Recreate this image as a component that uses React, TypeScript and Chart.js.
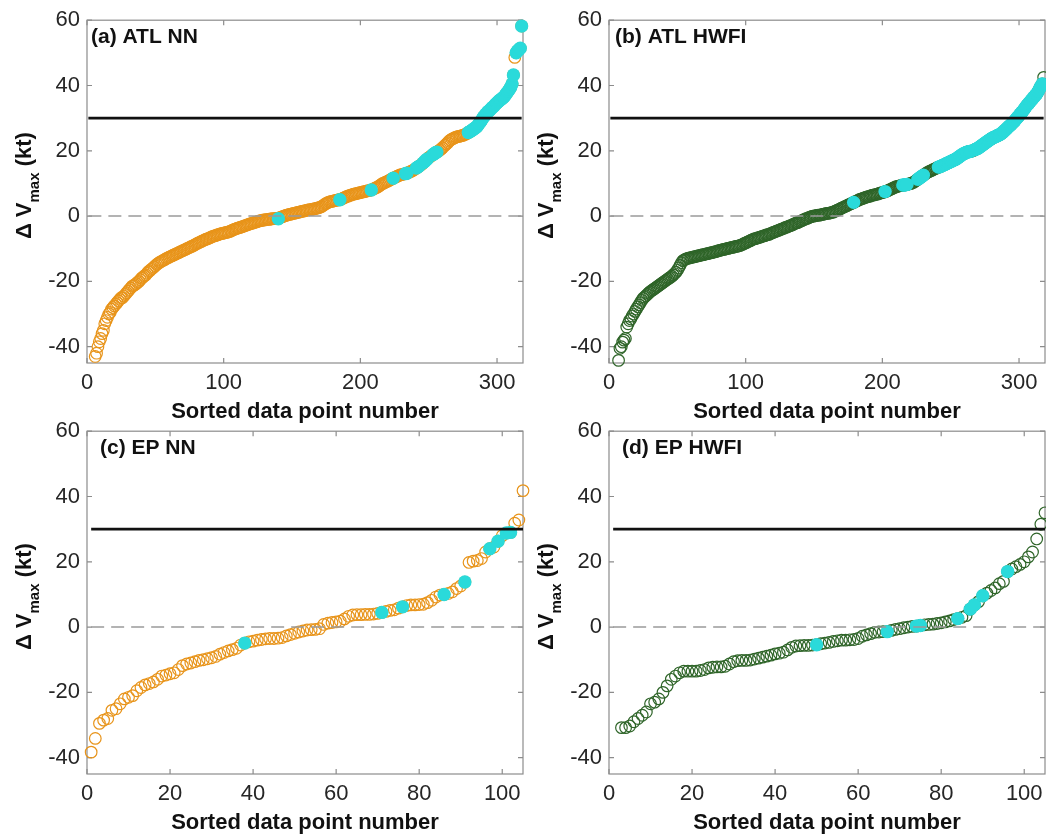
import React, { useEffect, useRef } from 'react';
import { Chart, registerables } from 'chart.js';

Chart.register(...registerables);

const FONT = '"Liberation Sans", Arial, Helvetica, sans-serif';
Chart.defaults.font.family = FONT;

// ---------------- data ----------------
const THRESHOLD = 30;
const Y_MIN = -45;
const Y_MAX = 60;
const yTicks = [-40, -20, 0, 20, 40, 60];
const xTicksATL = [0, 100, 200, 300];
const xTicksEP = [0, 20, 40, 60, 80, 100];
const xMaxATL = 319;
const xMaxEP = 105;

const ORANGE = '#E8941A';
const GREEN = '#2F6529';
const CYAN = '#2ADADA';

// (a) ATL NN — sorted ΔVmax, first plotted point number = atlNNStart
const atlNNStart = 6;
const atlNNValues = [
  -43.0, -42.0, -40.0, -38.5,
  -37.5, -36.0, -35.0, -33.0, -32.0, -31.0, -30.0, -29.5, -28.5, -28.0,
  -27.5, -27.0, -26.5, -26.0, -25.5, -25.0, -25.0, -24.5, -24.0, -23.5,
  -23.0, -22.5, -22.0, -21.5, -21.3, -21.0, -20.7, -20.3, -20.0, -19.5,
  -19.0, -18.7, -18.3, -18.0, -17.5, -17.0, -16.7, -16.3, -16.0, -15.6,
  -15.2, -14.8, -14.5, -14.2, -14.0, -13.7, -13.5, -13.3, -13.0, -12.8,
  -12.6, -12.4, -12.2, -12.0, -11.8, -11.6, -11.4, -11.2, -11.0, -10.8,
  -10.6, -10.4, -10.2, -10.0, -9.8, -9.6, -9.4, -9.2, -9.0, -8.8,
  -8.5, -8.3, -8.1, -7.9, -7.7, -7.5, -7.3, -7.1, -7.0, -6.8,
  -6.6, -6.4, -6.2, -6.1, -6.0, -5.8, -5.7, -5.5, -5.4, -5.3,
  -5.2, -5.1, -5.0, -4.9, -4.8, -4.6, -4.4, -4.2, -4.0, -3.9,
  -3.7, -3.6, -3.5, -3.3, -3.2, -3.0, -2.9, -2.7, -2.6, -2.4,
  -2.3, -2.2, -2.0, -1.9, -1.8, -1.6, -1.5, -1.4, -1.3, -1.2,
  -1.2, -1.1, -1.0, -1.0, -0.9, -0.9, -0.8, -0.8, -0.7, -0.7,
  -0.8, -0.5, -0.3, -0.2, 0.0, 0.1, 0.3, 0.4, 0.5, 0.6,
  0.7, 0.8, 0.9, 1.0, 1.1, 1.2, 1.3, 1.4, 1.5, 1.6,
  1.7, 1.8, 1.9, 2.0, 2.0, 2.1, 2.2, 2.3, 2.4, 2.5,
  2.6, 2.8, 3.0, 3.3, 3.6, 3.9, 4.1, 4.3, 4.4, 4.5,
  4.6, 4.7, 4.8, 4.9, 5.0, 5.0, 5.2, 5.4, 5.6, 5.8,
  6.0, 6.1, 6.3, 6.4, 6.6, 6.7, 6.8, 6.9, 7.0, 7.1,
  7.2, 7.3, 7.4, 7.5, 7.6, 7.7, 7.8, 7.9, 8.0, 8.2,
  8.4, 8.6, 8.8, 9.0, 9.3, 9.6, 9.9, 10.1, 10.3, 10.5,
  10.7, 10.9, 11.1, 11.4, 11.6, 11.8, 12.0, 12.2, 12.4, 12.6,
  12.7, 12.8, 12.9, 13.0, 13.1, 13.3, 13.5, 13.7, 13.9, 14.1,
  14.4, 14.7, 15.0, 15.3, 15.6, 15.9, 16.3, 16.7, 17.1, 17.5,
  17.9, 18.2, 18.5, 18.8, 19.1, 19.4, 19.6, 19.9, 20.2, 20.5,
  20.9, 21.3, 21.7, 22.1, 22.5, 23.0, 23.3, 23.6, 23.8, 24.0,
  24.2, 24.3, 24.4, 24.5, 24.6, 24.7, 24.9, 25.1, 25.3, 25.6,
  25.8, 26.1, 26.4, 26.7, 27.0, 27.3, 27.8, 28.4, 29.0, 29.6,
  30.3, 30.8, 31.3, 31.8, 32.2, 32.6, 33.0, 33.4, 33.8, 34.3,
  34.7, 35.1, 35.5, 35.8, 36.1, 36.5, 37.0, 37.6, 38.2, 38.8,
  39.5, 40.5, 43.2, 48.6, 50.0, 50.6, 51.0, 51.4, 58.2,
];
const atlNNHighlight = [
  [140, 140], [185, 185], [208, 208], [224, 224], [233, 234], [241, 243],
  [246, 249], [253, 256], [279, 312], [314, 318],
];

// (b) ATL HWFI
const atlHWFIStart = 7;
const atlHWFIValues = [
  -44.2, -40.5, -40.0,
  -38.6, -38.0, -37.5, -34.0, -33.0, -32.0, -31.5, -30.6, -30.0, -29.2,
  -28.5, -27.8, -27.2, -26.5, -25.8, -25.2, -24.8, -24.4, -24.0, -23.6,
  -23.2, -22.9, -22.6, -22.3, -22.0, -21.7, -21.4, -21.1, -20.8, -20.5,
  -20.2, -19.9, -19.6, -19.3, -19.0, -18.7, -18.4, -18.0, -17.6, -17.2,
  -16.6, -15.9, -15.1, -14.3, -13.7, -13.4, -13.2, -13.0, -12.9, -12.8,
  -12.7, -12.6, -12.5, -12.4, -12.3, -12.2, -12.1, -12.0, -11.9, -11.8,
  -11.7, -11.6, -11.5, -11.4, -11.3, -11.2, -11.1, -11.0, -10.9, -10.8,
  -10.6, -10.5, -10.4, -10.3, -10.2, -10.1, -10.0, -9.9, -9.8, -9.7,
  -9.6, -9.5, -9.4, -9.3, -9.2, -9.1, -9.0, -8.8, -8.6, -8.4,
  -8.2, -8.0, -7.8, -7.6, -7.4, -7.2, -7.0, -6.9, -6.8, -6.6,
  -6.5, -6.4, -6.2, -6.1, -6.0, -5.8, -5.7, -5.6, -5.4, -5.2,
  -5.0, -4.9, -4.7, -4.5, -4.4, -4.2, -4.0, -3.9, -3.7, -3.5,
  -3.4, -3.2, -3.0, -2.9, -2.7, -2.5, -2.3, -2.1, -2.0, -1.8,
  -1.6, -1.4, -1.2, -1.0, -0.8, -0.7, -0.5, -0.3, -0.2, 0.0,
  0.0, 0.1, 0.2, 0.3, 0.3, 0.4, 0.5, 0.6, 0.7, 0.8,
  0.8, 0.9, 1.0, 1.1, 1.2, 1.4, 1.6, 1.8, 2.0, 2.2,
  2.4, 2.6, 2.8, 3.0, 3.2, 3.4, 3.6, 3.8, 4.0, 4.2,
  4.4, 4.6, 4.8, 5.0, 5.2, 5.3, 5.5, 5.6, 5.8, 5.9,
  6.0, 6.1, 6.3, 6.4, 6.5, 6.6, 6.7, 6.8, 7.0, 7.1,
  7.2, 7.3, 7.5, 7.6, 7.8, 8.0, 8.2, 8.4, 8.6, 8.8,
  9.0, 9.1, 9.2, 9.3, 9.4, 9.5, 9.5, 9.6, 9.7, 9.8,
  9.9, 10.0, 10.2, 10.4, 10.7, 11.0, 11.3, 11.6, 11.9, 12.2,
  12.5, 12.8, 13.1, 13.4, 13.6, 13.8, 14.0, 14.2, 14.4, 14.6,
  14.8, 15.0, 15.1, 15.3, 15.5, 15.7, 15.9, 16.1, 16.3, 16.5,
  16.7, 16.9, 17.1, 17.3, 17.5, 17.8, 18.1, 18.4, 18.7, 19.0,
  19.2, 19.4, 19.6, 19.7, 19.8, 19.9, 20.0, 20.2, 20.4, 20.6,
  20.8, 21.1, 21.4, 21.7, 22.0, 22.3, 22.6, 22.9, 23.2, 23.5,
  23.8, 24.0, 24.2, 24.4, 24.6, 24.8, 25.0, 25.3, 25.6, 26.0,
  26.4, 26.8, 27.2, 27.6, 28.0, 28.4, 28.8, 29.3, 29.8, 30.3,
  30.8, 31.3, 31.8, 32.3, 32.9, 33.5, 34.0, 34.5, 35.0, 35.5,
  36.0, 36.5, 37.0, 37.5, 38.2, 39.0, 39.8, 40.5, 42.5,
];
const atlHWFIHighlight = [
  [179, 179], [202, 202], [215, 218], [226, 230], [241, 265], [268, 317],
];

// (c) EP NN
const epNNStart = 1;
const epNNValues = [
  -38.3, -34.1, -29.5, -28.5, -28.0, -25.5, -25.0, -23.5, -22.0, -21.5,
  -21.0, -19.5, -18.5, -17.7, -17.3, -16.8, -16.0, -15.0, -14.7, -14.3,
  -14.0, -13.0, -11.8, -11.3, -11.0, -10.6, -10.2, -10.0, -9.7, -9.4,
  -9.0, -8.3, -7.8, -7.3, -6.9, -6.5, -5.5, -4.9, -4.5, -4.3,
  -4.0, -3.8, -3.6, -3.5, -3.5, -3.4, -3.2, -2.7, -2.3, -1.9,
  -1.5, -1.2, -0.9, -0.8, -0.7, -0.5, 0.8, 1.2, 1.4, 1.6,
  1.8, 2.5, 3.3, 3.7, 3.8, 3.8, 3.9, 3.9, 4.0, 4.2,
  4.5, 4.8, 5.1, 5.3, 5.8, 6.2, 6.6, 6.8, 6.8, 6.9,
  7.0, 7.5, 8.2, 9.2, 9.8, 10.0, 10.3, 10.8, 11.8, 12.6,
  13.8, 19.8, 20.2, 20.4, 21.0, 23.0, 24.0, 24.5, 26.3, 28.0,
  28.8, 29.0, 31.8, 32.8, 41.8,
];
const epNNHighlight = [
  [38, 38], [71, 71], [76, 76], [86, 86], [91, 91], [97, 97], [99, 99], [101, 102],
];

// (d) EP HWFI
const epHWFIStart = 3;
const epHWFIValues = [
  -30.8, -30.8, -30.3, -29.0, -28.0, -27.0, -26.0, -23.5,
  -23.0, -22.0, -20.0, -18.0, -16.0, -15.0, -14.0, -13.5, -13.5, -13.5,
  -13.5, -13.3, -13.0, -12.5, -12.3, -12.2, -12.2, -12.0, -11.3, -10.6,
  -10.3, -10.2, -10.2, -10.1, -9.8, -9.5, -9.2, -8.9, -8.6, -8.2,
  -8.0, -7.7, -7.0, -6.2, -5.8, -5.7, -5.6, -5.6, -5.5, -5.4,
  -5.1, -4.9, -4.7, -4.4, -4.2, -4.0, -4.0, -3.9, -3.8, -3.5,
  -2.8, -2.4, -2.0, -1.6, -1.5, -1.4, -1.4, -1.0, -0.7, -0.5,
  -0.2, 0.0, 0.2, 0.3, 0.5, 0.7, 0.8, 0.9, 1.1, 1.3,
  1.6, 1.9, 2.3, 2.6, 3.0, 3.5, 5.5, 6.8, 7.8, 9.6,
  10.4, 11.2, 12.0, 13.3, 14.0, 17.0, 17.8, 18.5, 19.2, 20.0,
  21.5, 23.0, 27.0, 31.5, 35.0,
];
const epHWFIHighlight = [
  [50, 50], [67, 67], [74, 75], [84, 84], [87, 88], [90, 90], [96, 96],
];

// ---------------- layout ----------------
const CANVAS_W = 530;
const CANVAS_H = 425;
const PLOT_LEFT = 87;
const PLOT_RIGHT = 524;
const PLOT_TOP = 14;
const PLOT_BOTTOM = 363;

type PanelSpec = {
  title: string;
  titleX: number;
  start: number;
  values: number[];
  highlight: number[][];
  color: string;
  xMax: number;
  xTicks: number[];
  left: number;
  top: number;
};

const panels: PanelSpec[] = [
  { title: '(a) ATL NN', titleX: 91, start: atlNNStart, values: atlNNValues, highlight: atlNNHighlight, color: ORANGE, xMax: xMaxATL, xTicks: xTicksATL, left: 0, top: 0 },
  { title: '(b) ATL HWFI', titleX: 93, start: atlHWFIStart, values: atlHWFIValues, highlight: atlHWFIHighlight, color: GREEN, xMax: xMaxATL, xTicks: xTicksATL, left: 522, top: 0 },
  { title: '(c) EP NN', titleX: 100, start: epNNStart, values: epNNValues, highlight: epNNHighlight, color: ORANGE, xMax: xMaxEP, xTicks: xTicksEP, left: 0, top: 411 },
  { title: '(d) EP HWFI', titleX: 100, start: epHWFIStart, values: epHWFIValues, highlight: epHWFIHighlight, color: GREEN, xMax: xMaxEP, xTicks: xTicksEP, left: 522, top: 411 },
];

function makeOverlay(spec: PanelSpec) {
  return {
    id: 'overlay',
    beforeDatasetsDraw(chart: any) {
      const { ctx, chartArea } = chart;
      const { left, right, top, bottom } = chartArea;
      const xs = chart.scales.x;
      const ys = chart.scales.y;
      ctx.save();
      ctx.strokeStyle = '#8c8c8c';
      ctx.lineWidth = 1.2;
      ctx.strokeRect(left, top, right - left, bottom - top);
      const tl = 5;
      ctx.beginPath();
      for (const v of spec.xTicks) {
        const px = xs.getPixelForValue(v);
        ctx.moveTo(px, bottom);
        ctx.lineTo(px, bottom - tl);
        ctx.moveTo(px, top);
        ctx.lineTo(px, top + tl);
      }
      for (const v of yTicks) {
        const py = ys.getPixelForValue(v);
        ctx.moveTo(left, py);
        ctx.lineTo(left + tl, py);
        ctx.moveTo(right, py);
        ctx.lineTo(right - tl, py);
      }
      ctx.stroke();
      ctx.restore();
    },
    afterDraw(chart: any) {
      const { ctx, chartArea } = chart;
      ctx.save();
      // panel title
      ctx.fillStyle = '#111';
      ctx.font = `bold 21px ${FONT}`;
      ctx.textBaseline = 'alphabetic';
      ctx.textAlign = 'left';
      ctx.fillText(spec.title, spec.titleX, chartArea.top + 23);
      // y-axis title with subscript
      const big = `bold 22px ${FONT}`;
      const small = `bold 15px ${FONT}`;
      const parts = [
        { t: '\u0394 V', f: big, dy: 0 },
        { t: 'max', f: small, dy: 8 },
        { t: ' (kt)', f: big, dy: 0 },
      ];
      let total = 0;
      for (const p of parts) {
        ctx.font = p.f;
        total += ctx.measureText(p.t).width;
      }
      const cy = (chartArea.top + chartArea.bottom) / 2 - 6;
      ctx.translate(31, cy);
      ctx.rotate(-Math.PI / 2);
      let x = -total / 2;
      for (const p of parts) {
        ctx.font = p.f;
        ctx.fillText(p.t, x, p.dy);
        x += ctx.measureText(p.t).width;
      }
      ctx.restore();
    },
  };
}

function buildConfig(spec: PanelSpec): any {
  const n = spec.start + spec.values.length - 1;
  const base = spec.values.map((v, i) => ({ x: spec.start + i, y: v }));
  const hl: { x: number; y: number }[] = [];
  for (const [a, b] of spec.highlight) {
    for (let k = a; k <= b; k++) hl.push({ x: k, y: spec.values[k - spec.start] });
  }
  const tickFont = { family: FONT, size: 22 };
  return {
    type: 'scatter',
    data: {
      datasets: [
        {
          data: [{ x: 1, y: THRESHOLD }, { x: n, y: THRESHOLD }],
          showLine: true, borderColor: '#111', borderWidth: 2.6, pointRadius: 0, clip: false,
        },
        {
          data: [{ x: 1, y: 0 }, { x: n, y: 0 }],
          showLine: true, borderColor: '#9a9a9a', borderWidth: 1.5, borderDash: [13, 7], pointRadius: 0, clip: false,
        },
        {
          data: hl, pointRadius: 6.7, backgroundColor: CYAN, borderColor: CYAN, borderWidth: 0, clip: false,
        },
        {
          data: base, pointRadius: 5.8, backgroundColor: 'rgba(0,0,0,0)', borderColor: spec.color, borderWidth: 1.2, clip: false,
        },
      ],
    },
    options: {
      animation: false,
      responsive: false,
      events: [],
      layout: { padding: { top: PLOT_TOP, left: 0, right: CANVAS_W - PLOT_RIGHT, bottom: 0 } },
      plugins: { legend: { display: false }, tooltip: { enabled: false } },
      scales: {
        x: {
          type: 'linear',
          min: 0,
          max: spec.xMax,
          afterBuildTicks: (s: any) => { s.ticks = spec.xTicks.map((v) => ({ value: v })); },
          afterFit: (s: any) => { s.height = CANVAS_H - PLOT_BOTTOM; },
          grid: { display: false, drawTicks: false },
          border: { display: false },
          ticks: { font: tickFont, color: '#262626', padding: 7, maxRotation: 0, autoSkip: false },
          title: {
            display: true, text: 'Sorted data point number', color: '#111',
            font: { family: FONT, size: 22, weight: 'bold' }, padding: { top: 0, bottom: 0 },
          },
        },
        y: {
          type: 'linear',
          min: Y_MIN,
          max: Y_MAX,
          afterBuildTicks: (s: any) => { s.ticks = yTicks.map((v) => ({ value: v })); },
          afterFit: (s: any) => { s.width = PLOT_LEFT; },
          grid: { display: false, drawTicks: false },
          border: { display: false },
          ticks: { font: tickFont, color: '#262626', padding: 7, autoSkip: false },
        },
      },
    },
    plugins: [makeOverlay(spec)],
  };
}

function Panel({ spec }: { spec: PanelSpec }) {
  const ref = useRef<HTMLCanvasElement>(null);
  useEffect(() => {
    const chart = new Chart(ref.current as HTMLCanvasElement, buildConfig(spec));
    return () => chart.destroy();
  }, [spec]);
  return (
    <canvas
      ref={ref}
      width={CANVAS_W}
      height={CANVAS_H}
      style={{ position: 'absolute', left: spec.left, top: spec.top, width: CANVAS_W, height: CANVAS_H }}
    />
  );
}

export default function App() {
  return (
    <div style={{ position: 'absolute', left: 0, top: 0, width: 1046, height: 834, overflow: 'hidden', background: '#fff' }}>
      {panels.map((p) => (
        <Panel key={p.title} spec={p} />
      ))}
    </div>
  );
}
